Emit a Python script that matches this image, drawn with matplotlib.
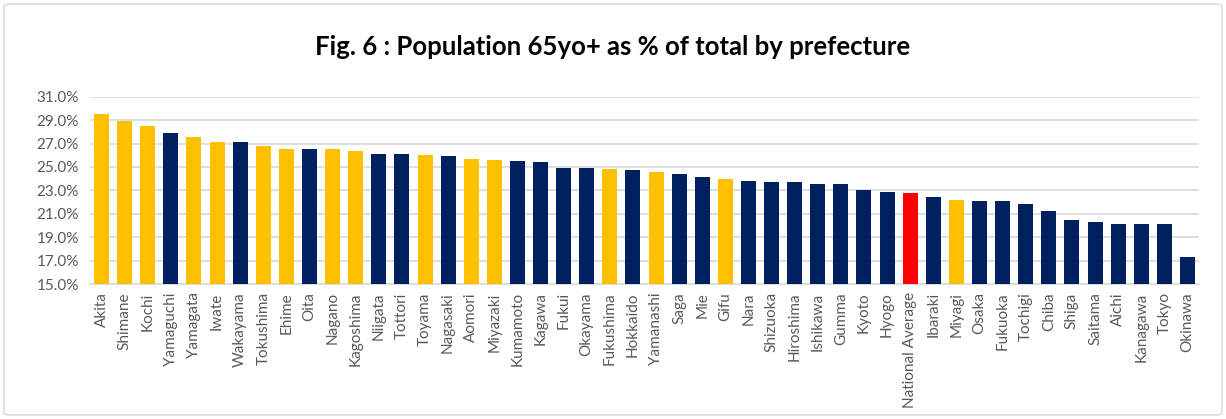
import matplotlib
matplotlib.use("Agg")
import matplotlib.pyplot as plt
from matplotlib.patches import FancyBboxPatch

plt.rcParams['font.family'] = ['Lato', 'DejaVu Sans']

# prefectures sorted by share of population aged 65+
prefectures = ["Akita", "Shimane", "Kochi", "Yamaguchi", "Yamagata", "Iwate", "Wakayama",
               "Tokushima", "Ehime", "Oita", "Nagano", "Kagoshima", "Niigata", "Tottori",
               "Toyama", "Nagasaki", "Aomori", "Miyazaki", "Kumamoto", "Kagawa", "Fukui",
               "Okayama", "Fukushima", "Hokkaido", "Yamanashi", "Saga", "Mie", "Gifu", "Nara",
               "Shizuoka", "Hiroshima", "Ishikawa", "Gumma", "Kyoto", "Hyogo",
               "National Average", "Ibaraki", "Miyagi", "Osaka", "Fukuoka", "Tochigi", "Chiba",
               "Shiga", "Saitama", "Aichi", "Kanagawa", "Tokyo", "Okinawa"]
share65 = [29.5, 28.9, 28.5, 27.9, 27.6, 27.1, 27.1,
           26.8, 26.5, 26.5, 26.5, 26.4, 26.1, 26.1,
           26.0, 25.9, 25.7, 25.6, 25.5, 25.4, 24.9,
           24.9, 24.8, 24.7, 24.6, 24.4, 24.1, 24.0, 23.8,
           23.7, 23.7, 23.5, 23.5, 23.0, 22.9,
           22.8, 22.4, 22.2, 22.1, 22.1, 21.8, 21.2,
           20.5, 20.3, 20.1, 20.1, 20.1, 17.3]
# highlighted group: Y = yellow, N = navy, A = national average
group = ["Y", "Y", "Y", "N", "Y", "Y", "N",
         "Y", "Y", "N", "Y", "Y", "N", "N",
         "Y", "N", "Y", "Y", "N", "N", "N",
         "N", "Y", "N", "Y", "N", "N", "Y", "N",
         "N", "N", "N", "N", "N", "N",
         "A", "N", "Y", "N", "N", "N", "N",
         "N", "N", "N", "N", "N", "N"]
yticks = [15, 17, 19, 21, 23, 25, 27, 29, 31]

colmap = {"Y": "#FFC000", "N": "#002060", "A": "#FF0000"}
colors = [colmap[g] for g in group]

fig = plt.figure(figsize=(12.26, 4.19), dpi=100)
ax = fig.add_axes([90 / 1226, 1 - 284 / 419, 1109 / 1226, 187.3 / 419])

x = list(range(len(prefectures)))
ax.bar(x, [v - 15 for v in share65], bottom=15, width=0.65, color=colors, zorder=3)

ax.set_ylim(15, 31)
ax.set_xlim(-0.5, len(prefectures) - 0.5)
ax.set_yticks(yticks)
ax.set_yticklabels(["%.1f%%" % t for t in yticks])
ax.set_xticks(x)
ax.set_xticklabels(prefectures, rotation=90)
ax.tick_params(axis="both", length=0, colors="#595959", labelsize=11)
ax.tick_params(axis="x", pad=6)
ax.tick_params(axis="y", pad=8)
ax.grid(axis="y", color="#D9D9D9", linewidth=1.2, zorder=0)
for s in ["top", "right", "left"]:
    ax.spines[s].set_visible(False)
ax.spines["bottom"].set_color("#D9D9D9")
ax.spines["bottom"].set_linewidth(1.2)

fig.text(0.5, 1 - 47 / 419, "Fig. 6 : Population 65yo+ as % of total by prefecture",
         ha="center", va="center", fontsize=18.5, fontweight="bold", color="black")

border = FancyBboxPatch((4 / 1226, 4 / 419), 1218 / 1226, 411 / 419,
                        boxstyle="round,pad=0,rounding_size=0.005",
                        transform=fig.transFigure, facecolor="none",
                        edgecolor="#D9D9D9", linewidth=1)
fig.patches.append(border)

fig.savefig("out.png", dpi=100)
